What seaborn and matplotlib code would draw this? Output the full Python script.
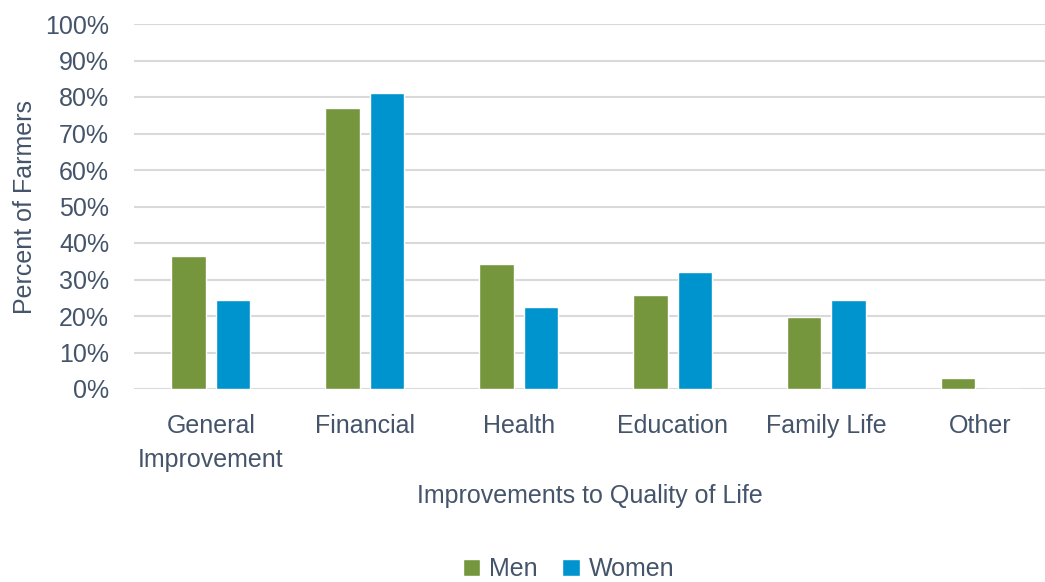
import matplotlib
matplotlib.use("Agg")
import matplotlib.pyplot as plt
import seaborn as sns
import pandas as pd
from matplotlib.ticker import PercentFormatter

categories = ["General\nImprovement", "Financial", "Health", "Education", "Family Life", "Other"]
men = [36.4, 77.0, 34.2, 25.8, 19.7, 3.0]
women = [24.4, 81.0, 22.5, 32.0, 24.4, 0.0]

sns.set_theme(style="white")
plt.rcParams["font.family"] = ["Liberation Sans", "DejaVu Sans"]
txt = "#44546A"

df = pd.DataFrame({
    "cat": categories * 2,
    "val": men + women,
    "sex": ["Men"] * 6 + ["Women"] * 6,
})

fig = plt.figure(figsize=(10.45, 5.82), dpi=100)
ax = fig.add_axes([134 / 1045, 1 - 389 / 582, 1 - 134 / 1045, 365 / 582])
sns.barplot(data=df, x="cat", y="val", hue="sex", palette=["#76963D", "#0094CE"],
            width=0.578, gap=0.225, ax=ax, saturation=1, legend=True)

ax.set_ylim(0, 100)
ax.set_xlim(-0.5, 5.42)
ax.set_yticks(range(0, 101, 10))
ax.yaxis.set_major_formatter(PercentFormatter(decimals=0))
ax.yaxis.grid(True, color="#D9D9D9", linewidth=1.5)
ax.set_axisbelow(True)
for s in ax.spines.values():
    s.set_visible(False)
ax.tick_params(axis="both", length=0, labelsize=18, labelcolor=txt)
ax.tick_params(axis="y", pad=18)
ax.tick_params(axis="x", pad=18)
for lab in ax.get_xticklabels():
    lab.set_linespacing(1.55)
    lab.set_verticalalignment("top")
ax.set_xlabel("Improvements to Quality of Life", fontsize=18, color=txt, labelpad=8)
ax.set_ylabel("Percent of Farmers", fontsize=18, color=txt, labelpad=6)

handles, labels = ax.get_legend_handles_labels()
ax.legend_.remove()
fig.legend(handles, labels, loc="center", bbox_to_anchor=(0.544, 1 - 569 / 582), ncol=2,
           frameon=False, fontsize=18, labelcolor=txt, handlelength=0.7, handleheight=0.7,
           handletextpad=0.35, columnspacing=1.0)

fig.savefig("out.png", dpi=100)
